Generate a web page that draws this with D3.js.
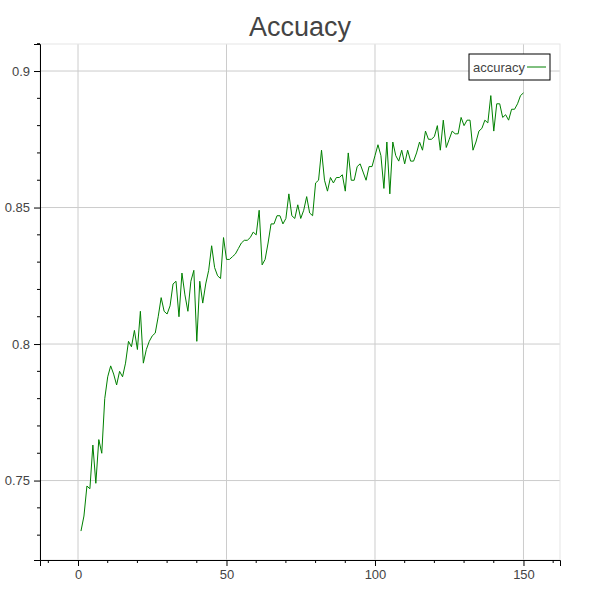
<!DOCTYPE html>
<html>
<head>
<meta charset="utf-8">
<script src="https://cdn.jsdelivr.net/npm/d3@7"></script>
<style>
  body { margin: 0; background: #fff; }
  text { font-family: "Liberation Sans", Arial, sans-serif; }
</style>
</head>
<body>
<div id="chart"></div>
<script>
// accuracy per epoch
const accuracy = [
  0.7315, 0.737, 0.748, 0.747, 0.763, 0.749, 0.765, 0.760, 0.780, 0.788,
  0.792, 0.789, 0.785, 0.790, 0.788, 0.793, 0.801, 0.799, 0.805, 0.798,
  0.812, 0.793, 0.798, 0.801, 0.803, 0.804, 0.810, 0.817, 0.812, 0.811,
  0.814, 0.822, 0.823, 0.810, 0.826, 0.818, 0.812, 0.823, 0.827, 0.801,
  0.823, 0.815, 0.822, 0.827, 0.836, 0.828, 0.825, 0.824, 0.839, 0.831,
  0.831, 0.832, 0.833, 0.835, 0.837, 0.838, 0.838, 0.839, 0.841, 0.840,
  0.849, 0.829, 0.831, 0.837, 0.844, 0.844, 0.847, 0.847, 0.844, 0.846,
  0.855, 0.847, 0.846, 0.851, 0.846, 0.849, 0.854, 0.848, 0.847, 0.859,
  0.860, 0.871, 0.860, 0.856, 0.861, 0.859, 0.861, 0.861, 0.862, 0.856,
  0.870, 0.860, 0.860, 0.865, 0.866, 0.863, 0.860, 0.865, 0.865, 0.869,
  0.873, 0.869, 0.857, 0.874, 0.855, 0.874, 0.869, 0.867, 0.871, 0.866,
  0.871, 0.867, 0.867, 0.870, 0.874, 0.871, 0.878, 0.875, 0.875, 0.876,
  0.880, 0.871, 0.882, 0.872, 0.875, 0.878, 0.877, 0.877, 0.883, 0.880,
  0.882, 0.882, 0.871, 0.874, 0.878, 0.879, 0.882, 0.881, 0.891, 0.878,
  0.888, 0.888, 0.883, 0.884, 0.882, 0.886, 0.886, 0.888, 0.891, 0.892
];
const epochs = accuracy.map((d, i) => i + 1);
const xTicks = [0, 50, 100, 150];
const yTicks = [0.75, 0.8, 0.85, 0.9];

const W = 600, H = 600;
const m = {left: 40, right: 40, top: 44, bottom: 40};

const svg = d3.select('#chart').append('svg')
  .attr('width', W).attr('height', H);

const x = d3.scaleLinear().domain([-12.8, 162.3]).range([m.left, W - m.right]);
const y = d3.scaleLinear().domain([0.7209, 0.9099]).range([H - m.bottom, m.top]);

// grid
svg.append('g').selectAll('line').data(xTicks).join('line')
  .attr('x1', d => x(d)).attr('x2', d => x(d))
  .attr('y1', m.top).attr('y2', H - m.bottom)
  .attr('stroke', '#ccc');
svg.append('g').selectAll('line').data(yTicks).join('line')
  .attr('x1', m.left).attr('x2', W - m.right)
  .attr('y1', d => y(d)).attr('y2', d => y(d))
  .attr('stroke', '#ccc');

// outline
svg.append('rect')
  .attr('x', m.left).attr('y', m.top)
  .attr('width', W - m.left - m.right).attr('height', H - m.top - m.bottom)
  .attr('fill', 'none').attr('stroke', '#e5e5e5');

// axes
const xAxis = svg.append('g')
  .attr('transform', `translate(0,${H - m.bottom})`)
  .call(d3.axisBottom(x).tickValues(xTicks).tickSize(6).tickPadding(4).tickFormat(d3.format('d')));
const yAxis = svg.append('g')
  .attr('transform', `translate(${m.left},0)`)
  .call(d3.axisLeft(y).tickValues(yTicks).tickSize(6).tickPadding(4).tickFormat(d => String(d)));

// minor ticks
xAxis.append('g').selectAll('line').data(d3.range(-10, 161, 10).filter(d => d % 50 !== 0)).join('line')
  .attr('x1', d => x(d)).attr('x2', d => x(d)).attr('y1', 0).attr('y2', 3).attr('stroke', '#000');
yAxis.append('g').selectAll('line').data(d3.range(0.73, 0.91, 0.01).filter(d => Math.round(d * 100) % 5 !== 0)).join('line')
  .attr('y1', d => y(d)).attr('y2', d => y(d)).attr('x1', 0).attr('x2', -3).attr('stroke', '#000');

[xAxis, yAxis].forEach(a => {
  a.select('.domain').attr('stroke', '#000');
  a.selectAll('text').attr('font-size', 13).attr('fill', '#444');
});

// line
svg.append('path')
  .datum(accuracy)
  .attr('fill', 'none')
  .attr('stroke', 'green')
  .attr('stroke-width', 1)
  .attr('d', d3.line().x((d, i) => x(epochs[i])).y(d => y(d)));

// title
svg.append('text')
  .attr('x', W / 2).attr('y', 36)
  .attr('text-anchor', 'middle')
  .attr('font-size', 27).attr('fill', '#444')
  .text('Accuacy');

// legend
const lg = svg.append('g').attr('transform', 'translate(469,54)');
lg.append('rect').attr('width', 81).attr('height', 26)
  .attr('fill', '#fff').attr('stroke', '#000');
lg.append('text').attr('x', 4).attr('y', 17.5)
  .attr('font-size', 13).attr('fill', '#444').text('accuracy');
lg.append('line').attr('x1', 58).attr('x2', 77).attr('y1', 13).attr('y2', 13)
  .attr('stroke', 'green');
</script>
</body>
</html>
